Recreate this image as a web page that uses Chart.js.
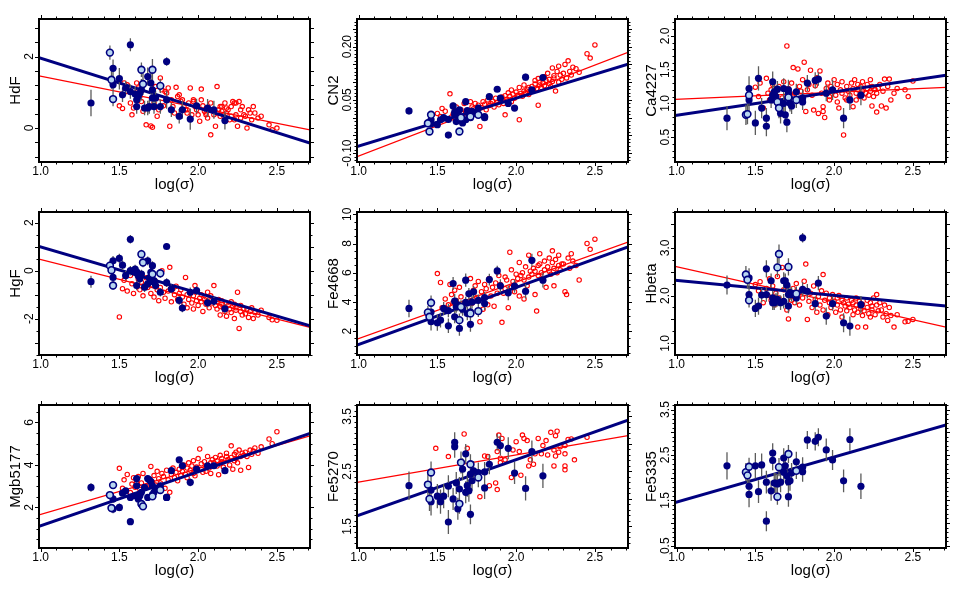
<!DOCTYPE html>
<html>
<head>
<meta charset="utf-8">
<script src="https://cdn.jsdelivr.net/npm/chart.js@4.4.1/dist/chart.umd.min.js"></script>
<style>
  html, body { margin: 0; padding: 0; background: #fff; }
  #grid { position: relative; width: 954px; height: 596px; }
  #grid canvas { position: absolute; }
</style>
</head>
<body>
<div id="grid"></div>
<script>
// ---- data ----
const indexNames = ['HdF', 'CN2', 'Ca4227', 'HgF', 'Fe4668', 'Hbeta', 'Mgb5177', 'Fe5270', 'Fe5335'];
const xTickValues = [1.0, 1.5, 2.0, 2.5];

const yMins = [-0.95, -0.125, 0.13, -3.52, 0.36, 0.755, 0.09, 1.107, 0.45];
const yMaxs = [3.05, 0.278, 2.25, 2.45, 10.16, 3.75, 6.82, 3.707, 3.6];
const yLabelValues = [[0, 2], [-0.10, 0.05, 0.20], [0.5, 1.0, 1.5, 2.0], [-2, 0, 2], [2, 4, 6, 8, 10],
                      [1, 2, 3], [2, 4, 6], [1.5, 2.5, 3.5], [0.5, 1.5, 2.5, 3.5]];
const yDecimals = [0, 2, 1, 0, 0, 1, 0, 1, 1];
const yMinorSteps = [0.4, 0.01, 0.1, 0.5, 0.5, 0.25, 0.5, 0.1, 0.1];
const yMajorSteps = [0.4, 0.05, 0.5, 1, 2, 0.5, 2, 0.5, 0.5];

// fitted lines, value at left and right edge of the x range
const redFitLeft = [1.46, -0.110, 1.059, 0.48, 1.45, 2.61, 1.65, 2.30, null];
const redFitRight = [-0.05, 0.184, 1.236, -2.37, 8.10, 1.34, 5.37, 3.15, null];
const blueFitLeft = [1.97, -0.0815, 0.818, 1.01, 1.04, 2.32, 1.11, 1.69, 1.45];
const blueFitRight = [-0.42, 0.151, 1.418, -2.30, 7.76, 1.78, 5.48, 3.43, 3.16];

// comparison sample (red open circles)
const redLogSigma = [1.50,1.52,1.53,1.55,1.57,1.58,1.59,1.60,1.61,1.62,1.63,1.64,1.65,1.67,1.68,
  1.70,1.71,1.72,1.73,1.74,1.75,1.76,1.77,1.78,1.79,1.80,1.81,1.82,1.83,1.84,1.85,1.86,1.87,1.88,1.89,
  1.90,1.91,1.92,1.93,1.93,1.94,1.95,1.96,1.97,1.97,1.98,1.99,2.00,2.01,2.02,2.02,2.03,2.04,2.05,2.05,2.06,2.07,2.08,2.08,2.09,
  2.10,2.11,2.12,2.12,2.13,2.14,2.14,2.15,2.15,2.16,2.17,2.18,2.18,2.19,2.20,2.21,2.21,2.22,2.23,2.23,2.24,2.24,2.25,2.26,2.27,2.27,2.28,2.29,
  2.30,2.31,2.32,2.33,2.34,2.35,2.36,2.38,2.40,2.45,2.47,2.50];
const fe5270RedLogSigma = [1.49,1.57,1.67,1.69,1.77,1.80,1.82,1.83,1.87,1.88,1.88,1.89,1.90,1.90,1.91,1.93,1.97,1.98,2.00,2.02,
  2.03,2.04,2.05,2.07,2.08,2.09,2.11,2.12,2.14,2.16,2.17,2.19,2.20,2.22,2.24,2.24,2.25,2.25,2.26,2.27,2.28,2.31,2.31,2.31,2.31,
  2.33,2.35,2.37,2.45];

const hdfRed = [0.62,0.55,1.26,1.21,0.70,0.37,0.56,0.98,1.26,1.12,0.88,0.74,0.47,0.09,0.60,
  0.06,0.02,0.70,1.16,0.33,0.51,1.40,1.07,0.62,1.02,0.98,1.12,0.05,0.79,0.60,0.42,1.14,0.88,0.93,0.75,
  0.79,0.60,0.51,0.42,0.51,0.70,1.12,0.37,0.79,0.74,0.60,0.51,0.37,0.19,1.09,0.79,0.62,0.47,0.42,0.37,0.28,0.51,-0.19,0.70,0.51,
  0.37,0.05,1.16,0.42,0.51,0.60,0.33,0.60,0.47,0.37,0.70,0.56,0.42,0.51,0.23,0.33,0.60,0.74,0.70,0.23,0.70,0.37,0.05,0.74,0.28,0.51,0.60,0.37,
  0.33,0.00,0.51,0.42,0.23,0.60,0.42,0.28,0.33,0.09,-0.05,0.00];
const cn2Red = [0.012,0.003,0.026,0.018,-0.004,0.067,0.002,0.010,0.020,0.030,-0.010,0.005,0.022,0.040,0.015,
  0.010,0.045,0.030,0.025,0.040,0.018,0.035,-0.025,0.028,0.045,0.038,0.022,0.050,0.034,0.040,0.046,0.030,0.055,0.042,0.036,
  0.048,0.058,0.040,0.062,0.008,0.052,0.070,0.060,0.045,0.078,0.066,0.055,0.072,0.063,-0.006,0.085,0.068,0.060,0.075,0.092,0.070,0.080,0.065,0.085,0.074,
  0.088,0.078,0.095,0.105,0.082,0.110,0.035,0.092,0.100,0.085,0.098,0.115,0.090,0.105,0.125,0.096,0.108,0.088,0.140,0.102,0.112,0.118,0.075,0.130,0.100,0.145,0.120,0.108,
  0.125,0.150,0.112,0.160,0.130,0.120,0.142,0.138,0.128,0.180,0.168,0.205];
const ca4227Red = [1.24,1.10,1.30,0.93,1.37,1.15,1.05,1.20,1.28,1.12,1.18,1.02,1.25,1.08,1.32,
  1.85,1.22,1.10,1.30,1.53,1.15,1.05,1.51,1.25,1.18,1.35,1.61,0.88,1.20,1.28,1.49,1.12,0.90,1.26,1.38,
  0.85,1.48,1.15,0.95,0.88,0.79,1.22,1.30,1.10,1.05,1.25,1.18,1.35,1.12,1.02,1.28,0.93,1.20,1.15,1.32,0.53,1.08,1.05,1.25,1.18,
  1.12,1.30,1.22,0.95,1.35,1.15,1.05,1.28,1.20,1.10,1.25,1.18,1.32,1.08,1.15,1.22,1.28,1.12,1.18,1.35,0.96,1.25,1.10,1.20,0.87,1.15,1.22,1.28,
  0.96,1.18,1.36,0.93,1.25,1.36,1.05,1.15,1.22,1.20,1.10,1.33];
const hgfRed = [-1.93,-0.75,-0.40,-0.85,-0.20,-0.55,-0.95,-0.10,-0.62,-0.35,-0.80,-0.48,-1.05,-0.30,-0.70,
  -0.95,-0.60,-1.10,-0.45,-0.80,-1.25,-0.70,0.00,-0.90,-1.15,-0.55,-0.85,0.14,-1.30,-0.75,-1.00,-0.65,-1.20,-0.95,-0.80,
  -1.10,-1.40,-0.28,-1.00,-1.55,-1.20,-0.95,-1.35,-1.60,-1.05,-0.62,-1.25,-1.45,-1.15,-1.00,-1.30,-1.70,-1.20,-1.10,-1.40,-0.90,-1.55,-1.25,-1.05,-1.35,
  -0.62,-1.45,-1.30,-1.60,-1.20,-1.50,-1.85,-1.40,-1.25,-1.55,-1.70,-1.35,-1.90,-1.45,-1.60,-1.30,-1.75,-1.50,-2.00,-1.40,-1.65,-1.55,-0.90,-2.41,-1.70,-1.45,-1.85,-1.60,
  -1.80,-1.60,-1.95,-1.70,-1.55,-2.00,-1.75,-1.85,-1.65,-1.95,-2.05,-2.07];
const fe4668Red = [5.94,5.33,3.60,4.20,3.80,5.20,4.50,3.95,4.80,4.10,3.70,5.00,4.35,3.90,5.50,
  4.60,5.60,3.90,4.80,5.10,4.30,5.40,2.64,4.70,3.50,5.20,4.90,3.80,5.60,4.40,5.00,3.70,5.30,4.60,5.80,
  5.20,2.60,4.60,5.70,4.90,5.50,3.60,7.40,5.00,6.20,5.40,4.70,5.90,5.60,6.70,4.40,5.80,6.00,4.20,5.50,6.40,5.10,5.70,7.20,6.10,
  5.90,6.30,4.50,6.10,3.37,6.50,5.80,6.60,7.30,6.00,5.60,6.80,6.20,5.00,6.40,7.00,6.10,5.90,6.70,7.50,6.30,5.10,6.90,6.00,6.50,7.20,6.20,6.60,
  6.60,4.70,4.50,7.00,6.30,7.30,6.80,6.50,5.50,8.00,7.60,8.30];
const hbetaRed = [2.23,2.10,2.29,1.85,2.15,2.00,2.35,1.90,2.20,1.80,2.05,2.40,1.95,2.59,2.12,
  1.70,1.51,2.05,1.90,2.15,1.85,2.25,2.00,1.80,2.10,1.95,2.30,2.66,1.50,1.88,2.05,1.75,2.20,1.92,1.65,
  1.98,1.80,2.10,2.44,1.70,1.90,2.05,1.60,1.85,1.95,1.75,2.02,1.88,1.65,1.95,1.80,2.00,1.70,1.90,1.55,1.85,1.78,1.95,1.68,1.82,
  1.75,1.90,1.60,1.85,1.70,1.95,1.80,1.34,1.65,1.88,1.72,1.58,1.82,1.68,1.34,1.90,1.75,1.62,1.85,1.55,1.78,1.70,1.95,1.60,1.80,2.02,1.68,1.85,
  1.70,1.55,1.80,1.62,1.48,1.75,1.58,1.34,1.60,1.45,1.46,1.50];
const mgbRed = [3.84,2.90,3.30,3.55,2.70,3.10,3.40,2.95,3.20,3.45,2.85,3.15,3.60,3.00,3.35,
  3.93,3.20,3.50,3.05,3.70,3.35,3.15,3.60,3.45,2.90,3.75,3.30,2.71,3.55,3.85,3.40,3.65,3.25,3.80,3.50,
  3.70,4.00,3.55,3.85,3.40,4.10,3.75,3.95,3.60,4.20,3.49,3.90,4.30,4.75,3.80,4.05,3.65,4.15,3.95,3.70,4.40,3.85,4.10,3.60,4.25,
  4.10,4.35,3.95,4.20,3.54,4.45,4.05,4.30,4.15,3.90,3.73,4.40,4.55,4.25,4.00,4.90,4.35,3.80,4.50,4.20,4.60,4.30,4.10,4.70,4.40,3.75,4.55,4.45,
  4.60,4.40,3.88,4.70,4.50,4.65,4.80,4.55,4.85,5.22,5.00,5.56];
const fe5270Red = [2.92,2.77,3.18,2.92,2.04,2.78,2.77,2.24,2.29,2.17,2.86,3.16,2.74,2.66,3.10,2.71,2.39,2.89,3.04,2.86,
  2.43,3.16,3.10,3.06,2.60,2.71,2.63,2.82,3.10,2.82,2.97,3.06,2.80,3.21,2.89,2.60,3.15,2.78,3.23,2.85,2.95,2.97,2.82,2.60,2.53,
  3.08,3.09,2.71,3.12];

// our sample: filled points with errors, and open points
const blueLogSigma = [1.32,1.46,1.46,1.50,1.52,1.54,1.57,1.57,1.60,1.61,1.61,1.62,1.63,1.64,1.66,1.68,1.68,
  1.69,1.70,1.71,1.71,1.72,1.73,1.76,1.80,1.80,1.83,1.88,1.90,1.95,1.99,2.06,2.10,2.17];
const openLogSigma = [1.44,1.45,1.46,1.64,1.65,1.71,1.76];

const hdfBlue = [0.70,1.67,1.21,1.38,0.93,1.12,2.33,1.02,0.95,0.79,0.60,0.90,0.98,1.07,0.56,1.44,0.56,0.60,1.26,0.84,1.07,0.60,0.84,0.60,0.79,1.86,0.51,0.33,0.51,0.25,0.62,0.56,0.51,0.21];
const hdfBlueErr = [0.37,0.25,0.30,0.30,0.20,0.20,0.18,0.20,0.20,0.20,0.20,0.20,0.25,0.30,0.20,0.25,0.20,0.20,0.30,0.25,0.25,0.20,0.20,0.20,0.25,0.12,0.20,0.20,0.25,0.30,0.20,0.25,0.25,0.25];
const hdfOpen = [2.11,1.35,0.81,1.63,1.23,1.63,1.18];
const hdfOpenErr = [0.20,0.25,0.20,0.20,0.30,0.30,0.20];

const cn2Blue = [0.019,-0.006,-0.018,-0.020,-0.006,0.000,-0.049,-0.005,0.033,0.008,0.015,-0.011,0.008,0.022,-0.015,0.045,-0.006,0.020,0.008,0.012,0.000,0.018,0.012,0.027,0.003,0.000,0.059,0.080,0.055,0.040,0.027,0.114,0.078,0.113];
const cn2BlueErr = [0.010,0.008,0.008,0.006,0.006,0.006,0.006,0.008,0.010,0.006,0.006,0.008,0.006,0.006,0.008,0.006,0.006,0.006,0.008,0.006,0.006,0.006,0.006,0.006,0.006,0.006,0.008,0.006,0.006,0.008,0.008,0.010,0.006,0.008];
const cn2Open = [-0.016,-0.039,0.008,-0.039,0.000,0.003,0.008];
const cn2OpenErr = [0.006,0.006,0.006,0.006,0.006,0.006,0.006];

const ca4227Blue = [0.78,1.22,1.05,0.71,1.37,0.93,0.78,0.66,1.05,1.32,1.12,1.17,1.10,1.21,0.85,1.00,1.22,0.83,0.72,1.20,1.15,1.00,0.96,1.17,1.02,1.08,1.30,1.34,1.36,1.15,1.20,0.78,1.05,1.12];
const ca4227BlueErr = [0.18,0.18,0.18,0.18,0.18,0.15,0.15,0.15,0.12,0.15,0.12,0.15,0.15,0.12,0.15,0.12,0.15,0.15,0.15,0.15,0.12,0.12,0.12,0.12,0.12,0.12,0.12,0.12,0.10,0.12,0.15,0.15,0.15,0.15];
const ca4227Open = [0.83,0.84,1.12,1.02,0.93,1.09,1.05];
const ca4227OpenErr = [0.15,0.15,0.15,0.12,0.15,0.12,0.12];

const hgfBlue = [-0.46,0.41,-0.28,0.51,0.23,-0.21,1.31,0.00,0.07,-0.62,-0.05,-0.21,-0.34,-0.14,-0.69,0.41,-0.55,-0.30,-0.07,0.21,-0.45,-0.41,-0.62,-0.90,-0.50,1.01,-0.76,-1.24,-1.56,-0.90,-0.83,-1.34,-1.28,-1.59];
const hgfBlueErr = [0.25,0.20,0.20,0.20,0.20,0.20,0.18,0.20,0.18,0.20,0.18,0.18,0.18,0.18,0.20,0.18,0.18,0.18,0.18,0.18,0.18,0.18,0.18,0.18,0.18,0.12,0.18,0.18,0.18,0.20,0.18,0.20,0.18,0.20];
const hgfOpen = [0.21,0.02,-0.62,0.69,0.34,-0.14,-0.11];
const hgfOpenErr = [0.18,0.18,0.18,0.18,0.20,0.18,0.18];

const fe4668Blue = [3.55,2.64,3.30,2.57,2.75,3.55,2.36,3.40,5.26,4.05,2.98,3.66,3.80,2.18,3.50,5.49,3.96,3.20,4.55,2.46,3.32,4.00,4.69,4.10,3.89,4.30,5.53,6.12,5.10,4.62,5.08,4.73,6.85,5.49];
const fe4668BlueErr = [0.60,0.60,0.50,0.55,0.50,0.45,0.50,0.45,0.45,0.50,0.45,0.40,0.45,0.50,0.45,0.45,0.40,0.45,0.40,0.50,0.40,0.45,0.40,0.40,0.45,0.40,0.40,0.35,0.45,0.50,0.45,0.50,0.45,0.50];
const fe4668Open = [3.28,2.98,3.94,2.75,3.66,3.21,3.37];
const fe4668OpenErr = [0.45,0.45,0.50,0.45,0.45,0.40,0.40];

const hbetaBlue = [2.22,2.02,2.37,1.73,1.78,2.01,2.56,2.02,2.31,1.95,1.85,1.85,1.90,1.92,1.85,2.31,1.88,2.31,2.22,2.02,1.78,2.06,2.02,1.95,2.13,3.21,2.09,1.83,2.26,1.57,1.83,1.43,1.36,1.81];
const hbetaBlueErr = [0.20,0.20,0.20,0.18,0.18,0.15,0.18,0.15,0.15,0.15,0.15,0.15,0.15,0.15,0.15,0.18,0.15,0.15,0.15,0.15,0.15,0.15,0.15,0.15,0.15,0.10,0.15,0.15,0.15,0.18,0.15,0.20,0.20,0.18];
const hbetaOpen = [2.44,2.33,1.90,2.59,2.87,2.60,2.04];
const hbetaOpenErr = [0.18,0.18,0.15,0.20,0.20,0.18,0.15];

const mgbBlue = [2.94,1.92,2.40,2.00,2.67,2.78,1.33,2.47,2.55,3.36,3.02,2.40,2.55,2.71,2.94,2.47,3.36,3.30,3.21,3.02,2.60,2.71,2.85,3.02,2.47,2.47,3.73,4.24,3.96,3.18,3.80,3.96,3.96,3.73];
const mgbBlueErr = [0.20,0.20,0.18,0.18,0.18,0.15,0.15,0.15,0.15,0.15,0.15,0.15,0.15,0.15,0.15,0.15,0.15,0.15,0.15,0.15,0.15,0.15,0.15,0.15,0.15,0.15,0.15,0.12,0.15,0.18,0.15,0.15,0.15,0.15];
const mgbOpen = [2.58,1.97,3.05,2.16,2.05,2.52,2.82];
const mgbOpenErr = [0.15,0.15,0.15,0.15,0.15,0.15,0.15];

const fe5270Blue = [2.24,2.16,1.95,2.05,1.95,2.05,1.58,2.23,2.00,3.03,2.95,2.29,1.82,2.18,2.54,2.82,2.12,2.24,2.15,1.72,2.45,2.33,2.51,2.48,2.20,2.49,2.63,3.03,2.97,2.92,2.47,2.19,2.86,2.42];
const fe5270BlueErr = [0.26,0.22,0.25,0.22,0.22,0.22,0.22,0.20,0.20,0.18,0.20,0.20,0.20,0.22,0.20,0.18,0.20,0.20,0.20,0.18,0.20,0.18,0.18,0.18,0.20,0.18,0.18,0.15,0.18,0.20,0.20,0.22,0.20,0.22];
const fe5270Open = [2.26,2.00,2.48,1.91,2.66,2.63,2.39];
const fe5270OpenErr = [0.20,0.22,0.20,0.18,0.20,0.18,0.18];

const fe5335Blue = [2.26,1.81,1.63,2.26,1.69,2.28,1.90,1.04,1.71,2.54,2.38,1.88,1.88,1.86,1.90,2.12,2.43,2.26,2.04,1.91,1.58,1.93,2.10,2.35,2.23,2.13,2.83,2.80,2.89,2.61,2.39,1.93,2.84,1.81];
const fe5335BlueErr = [0.30,0.25,0.28,0.28,0.25,0.25,0.25,0.22,0.22,0.22,0.22,0.22,0.22,0.22,0.22,0.22,0.22,0.22,0.22,0.22,0.22,0.22,0.22,0.22,0.22,0.22,0.20,0.20,0.20,0.25,0.22,0.25,0.25,0.28];
const fe5335Open = [2.12,2.05,2.24,1.58,2.23,2.52,2.15];
const fe5335OpenErr = [0.20,0.20,0.20,0.18,0.20,0.20,0.18];

const redSeries = [hdfRed, cn2Red, ca4227Red, hgfRed, fe4668Red, hbetaRed, mgbRed, fe5270Red, null];
const redXSeries = [redLogSigma, redLogSigma, redLogSigma, redLogSigma, redLogSigma, redLogSigma, redLogSigma, fe5270RedLogSigma, null];
const blueSeries = [hdfBlue, cn2Blue, ca4227Blue, hgfBlue, fe4668Blue, hbetaBlue, mgbBlue, fe5270Blue, fe5335Blue];
const blueErrSeries = [hdfBlueErr, cn2BlueErr, ca4227BlueErr, hgfBlueErr, fe4668BlueErr, hbetaBlueErr, mgbBlueErr, fe5270BlueErr, fe5335BlueErr];
const openSeries = [hdfOpen, cn2Open, ca4227Open, hgfOpen, fe4668Open, hbetaOpen, mgbOpen, fe5270Open, fe5335Open];
const openErrSeries = [hdfOpenErr, cn2OpenErr, ca4227OpenErr, hgfOpenErr, fe4668OpenErr, hbetaOpenErr, mgbOpenErr, fe5270OpenErr, fe5335OpenErr];

// ---- drawing ----
const X_MIN = 0.99, X_MAX = 2.71;
const NAVY = '#000080';
const FONT = '"Liberation Sans", Arial, Helvetica, sans-serif';
Chart.defaults.font.family = FONT;
Chart.defaults.color = '#000';

const probe = document.createElement('canvas').getContext('2d');
probe.font = '12px ' + FONT;
function widest(labels) {
    return Math.max(...labels.map(t => probe.measureText(t).width));
}

function pts(xs, ys) {
    return xs.map((x, i) => ({ x: x, y: ys[i] }));
}

function bars(xs, ys, es) {
    const out = [];
    xs.forEach((x, i) => {
        out.push({ x: x, y: ys[i] - es[i] }, { x: x, y: ys[i] + es[i] }, { x: x, y: null });
    });
    return out;
}

// box round the plot and R-style tick marks on all four sides
const frameTicks = {
    id: 'frameTicks',
    afterDraw(chart, args, opts) {
        const { ctx, chartArea: a } = chart;
        const xs = chart.scales.x, ys = chart.scales.y;
        ctx.save();
        ctx.strokeStyle = '#000';
        ctx.lineWidth = 1;
        const marks = (scale, step, major, horiz) => {
            const n0 = Math.ceil(scale.min / step - 1e-6);
            const n1 = Math.floor(scale.max / step + 1e-6);
            for (let k = n0; k <= n1; k++) {
                const v = k * step;
                const r = v / major;
                const len = Math.abs(r - Math.round(r)) < 1e-6 ? 4 : 2.5;
                const p = Math.round(scale.getPixelForValue(v)) + 0.5;
                ctx.beginPath();
                if (horiz) {
                    ctx.moveTo(p, a.bottom); ctx.lineTo(p, a.bottom + len);
                    ctx.moveTo(p, a.top); ctx.lineTo(p, a.top - len);
                } else {
                    ctx.moveTo(a.left, p); ctx.lineTo(a.left - len, p);
                    ctx.moveTo(a.right, p); ctx.lineTo(a.right + len, p);
                }
                ctx.stroke();
            }
        };
        marks(xs, opts.xMinor, opts.xMajor, true);
        marks(ys, opts.yMinor, opts.yMajor, false);
        ctx.lineWidth = 2;
        ctx.strokeRect(a.left, a.top, a.width, a.height);
        ctx.restore();
    }
};

const grid = document.getElementById('grid');

indexNames.forEach((name, i) => {
    const canvas = document.createElement('canvas');
    canvas.width = 318;
    canvas.height = 193;
    canvas.style.left = (318 * (i % 3)) + 'px';
    canvas.style.top = (193 * Math.floor(i / 3)) + 'px';
    grid.appendChild(canvas);

    const labels = yLabelValues[i].map(v => v.toFixed(yDecimals[i]));
    const yPad = 9 - widest(labels) / 2;

    const datasets = [
        {
            data: pts(openLogSigma, openSeries[i]),
            pointRadius: 3.4, pointBackgroundColor: '#b8d6f0',
            pointBorderColor: NAVY, pointBorderWidth: 1.6
        },
        {
            data: pts(blueLogSigma, blueSeries[i]),
            pointRadius: 3.6, pointBackgroundColor: NAVY,
            pointBorderColor: NAVY, pointBorderWidth: 0
        },
        {
            data: bars(blueLogSigma, blueSeries[i], blueErrSeries[i])
                .concat(bars(openLogSigma, openSeries[i], openErrSeries[i])),
            showLine: true, borderColor: '#5c5c5c', borderWidth: 1.3, pointRadius: 0
        },
        {
            data: [{ x: X_MIN, y: blueFitLeft[i] }, { x: X_MAX, y: blueFitRight[i] }],
            showLine: true, borderColor: NAVY, borderWidth: 3, pointRadius: 0
        }
    ];
    if (redSeries[i]) {
        datasets.push({
            data: [{ x: X_MIN, y: redFitLeft[i] }, { x: X_MAX, y: redFitRight[i] }],
            showLine: true, borderColor: '#ff0000', borderWidth: 1.2, pointRadius: 0
        });
        datasets.push({
            data: pts(redXSeries[i], redSeries[i]),
            pointRadius: 2.2, pointBackgroundColor: 'rgba(0,0,0,0)',
            pointBorderColor: '#ff0000', pointBorderWidth: 1.1
        });
    }

    new Chart(canvas, {
        type: 'scatter',
        data: { datasets },
        plugins: [frameTicks],
        options: {
            responsive: false,
            animation: false,
            events: [],
            layout: { padding: { top: 19, right: 8, left: 0, bottom: 0 } },
            plugins: {
                legend: { display: false },
                tooltip: { enabled: false },
                frameTicks: { xMinor: 0.1, xMajor: 0.5, yMinor: yMinorSteps[i], yMajor: yMajorSteps[i] }
            },
            scales: {
                x: {
                    type: 'linear', min: X_MIN, max: X_MAX,
                    afterBuildTicks: s => { s.ticks = xTickValues.map(v => ({ value: v })); },
                    afterFit: s => { s.height = 31; },
                    grid: { display: false, drawTicks: false },
                    border: { display: false },
                    ticks: {
                        font: { size: 12 }, color: '#000', padding: 2,
                        maxRotation: 0, autoSkip: false,
                        callback: v => v.toFixed(1)
                    },
                    title: {
                        display: true, text: 'log(σ)', color: '#000',
                        font: { size: 15, lineHeight: 1.1 }, padding: 0
                    }
                },
                y: {
                    type: 'linear', min: yMins[i], max: yMaxs[i],
                    afterBuildTicks: s => { s.ticks = yLabelValues[i].map(v => ({ value: v })); },
                    afterFit: s => { s.width = 39; },
                    grid: { display: false, drawTicks: false },
                    border: { display: false },
                    ticks: {
                        font: { size: 12 }, color: '#000', padding: yPad,
                        minRotation: 90, maxRotation: 90, crossAlign: 'center', autoSkip: false,
                        callback: v => v.toFixed(yDecimals[i])
                    },
                    title: {
                        display: true, text: name, color: '#000',
                        font: { size: 15, lineHeight: 1.1 }, padding: { top: 7.5, bottom: 0 }
                    }
                }
            }
        }
    });
});
</script>
</body>
</html>
